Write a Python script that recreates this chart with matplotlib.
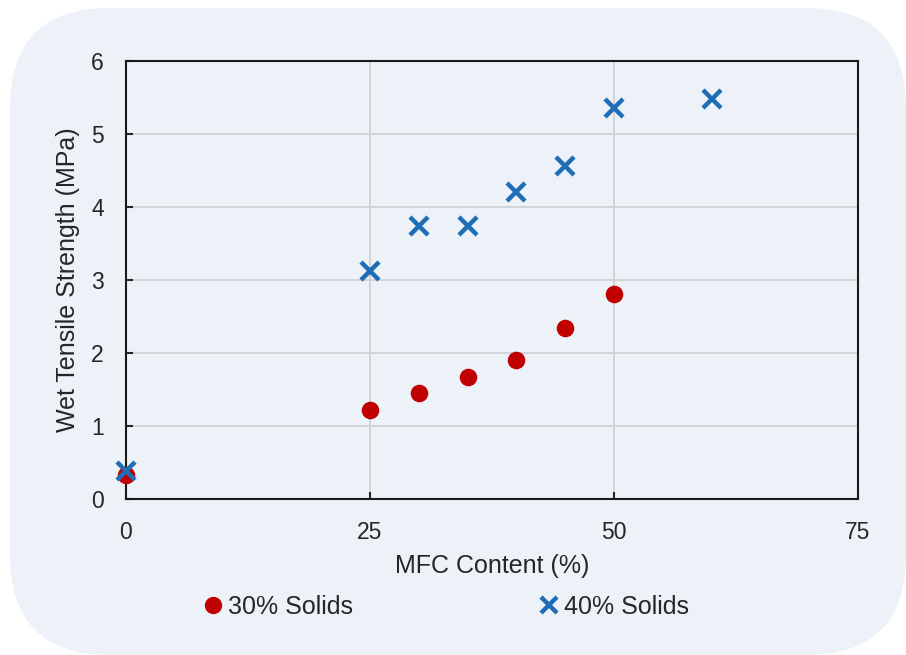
import matplotlib
matplotlib.use('Agg')
import matplotlib.pyplot as plt
from matplotlib.patches import FancyBboxPatch
from matplotlib.lines import Line2D

# data
mfc_30 = [0, 25, 30, 35, 40, 45, 50]
strength_30 = [0.33, 1.22, 1.45, 1.67, 1.90, 2.34, 2.81]
mfc_40 = [0, 25, 30, 35, 40, 45, 50, 60]
strength_40 = [0.38, 3.12, 3.74, 3.74, 4.20, 4.56, 5.36, 5.48]
x_ticks = [0, 25, 50, 75]
y_ticks = [0, 1, 2, 3, 4, 5, 6]
series_names = ['30% Solids', '40% Solids']

bg_color = '#EDF2F8'
red = '#C00000'
blue = '#1F6EB5'
text_col = '#262626'
plt.rcParams['font.family'] = ['Liberation Sans', 'DejaVu Sans']

W, H = 906, 655
fig = plt.figure(figsize=(W / 100, H / 100), dpi=100)
fig.patch.set_facecolor('white')

# rounded background panel
bg = fig.add_axes([0, 0, 1, 1], zorder=0)
bg.set_xlim(0, W)
bg.set_ylim(H, 0)
bg.axis('off')
bg.add_patch(FancyBboxPatch((10, 8), 896, 647, boxstyle='round,pad=0,rounding_size=100',
                            facecolor=bg_color, edgecolor='none'))

left, right, top, bottom = 126, 858, 61, 499
ax = fig.add_axes([left / W, 1 - bottom / H, (right - left) / W, (bottom - top) / H], zorder=1)
ax.set_facecolor('none')

ax.scatter(mfc_30, strength_30, s=160, color=red, marker='o', zorder=3, clip_on=False,
           linewidths=0)
ax.plot(mfc_40, strength_40, linestyle='none', marker='x', markersize=13, mew=3.2,
        color=blue, zorder=4, clip_on=False)

ax.set_xlim(0, 75)
ax.set_ylim(0, 6)
ax.set_xticks(x_ticks)
ax.set_yticks(y_ticks)
ax.grid(True, color='#D2D4D8', linewidth=1.4)
ax.set_axisbelow(True)

for sp in ax.spines.values():
    sp.set_color('#1A1A1A')
    sp.set_linewidth(1.5)

ax.tick_params(axis='y', direction='in', length=5, width=1.5, pad=16, labelsize=16.5,
               colors=text_col)
ax.tick_params(axis='x', direction='in', length=5, width=1.5, pad=16, labelsize=16.5,
               colors=text_col)

ax.set_xlabel('MFC Content (%)', fontsize=18, color=text_col)
ax.set_ylabel('Wet Tensile Strength (MPa)', fontsize=18, color=text_col)
ax.xaxis.label.set_va('center')
ax.yaxis.label.set_va('center')
ax.xaxis.set_label_coords(0.5, 1 - (566 - top) / (bottom - top))
ax.yaxis.set_label_coords((68 - left) / (right - left), 0.5)

# legend below the plot, one entry per column position
h30 = Line2D([], [], linestyle='none', marker='o', markersize=12.5, color=red, mew=0)
h40 = Line2D([], [], linestyle='none', marker='x', markersize=12, mew=3.2, color=blue)
for handle, name, cx in [(h30, series_names[0], 213), (h40, series_names[1], 549)]:
    fig.legend(handles=[handle], labels=[name], loc='center left',
               bbox_to_anchor=((cx - 12.5) / W, 1 - 607 / H), frameon=False,
               borderpad=0, borderaxespad=0, handlelength=1.0, handletextpad=0.1,
               prop={'size': 18}, labelcolor=text_col)

fig.savefig('out.png', dpi=100, facecolor=fig.get_facecolor())
